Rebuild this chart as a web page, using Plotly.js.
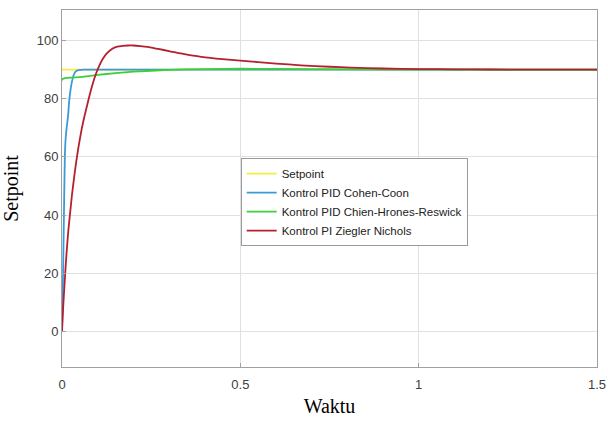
<!DOCTYPE html>
<html>
<head>
<meta charset="utf-8">
<script src="https://cdn.plot.ly/plotly-3.0.1.min.js"></script>
<style>html,body{margin:0;padding:0;background:#fff;}#chart{width:608px;height:425px;}</style>
</head>
<body>
<div id="chart"></div>
<script>
// Setpoint
const tSet = [0, 1.5];
const ySet = [90, 90];
// Kontrol PID Cohen-Coon
const tCC = [0, 0.003, 0.006, 0.008, 0.010, 0.013, 0.017, 0.020, 0.025, 0.030, 0.035, 0.040, 0.050, 0.060, 0.2, 0.5, 1.0, 1.5];
const yCC = [0, 20, 45, 60, 66, 70, 74, 79, 84, 87, 88.8, 89.5, 89.9, 90, 90, 90, 90, 90];
// Kontrol PID Chien-Hrones-Reswick
const tCHR = [0, 0.001, 0.05, 0.10, 0.15, 0.20, 0.30, 0.40, 0.50, 0.70, 1.0, 1.5];
const yCHR = [0, 86.7, 87.4, 88.2, 88.8, 89.3, 89.9, 90.2, 90.3, 90.2, 90.05, 90];
// Kontrol PI Ziegler Nichols
const tZN = [0, 0.002, 0.004, 0.007, 0.010, 0.014, 0.018, 0.023, 0.028, 0.034, 0.040, 0.047, 0.055, 0.063, 0.071, 0.079, 0.087, 0.095, 0.105, 0.115, 0.125, 0.140, 0.155, 0.170, 0.185, 0.200, 0.220, 0.240, 0.270, 0.300, 0.340, 0.390, 0.450, 0.500, 0.550, 0.600, 0.670, 0.750, 0.810, 0.900, 1.000, 1.100, 1.200, 1.300, 1.500];
const yZN = [0, 5, 10, 16, 22, 29, 35, 41, 47, 53, 58.5, 64, 69.5, 74, 78, 82, 85.5, 88.5, 91.5, 93.8, 95.5, 97.1, 97.9, 98.2, 98.3, 98.3, 98.1, 97.8, 97.1, 96.4, 95.4, 94.4, 93.6, 93.1, 92.6, 92.1, 91.5, 91.0, 90.7, 90.4, 90.2, 90.1, 90.05, 90.0, 90.0];
const names = ["Setpoint", "Kontrol PID Cohen-Coon", "Kontrol PID Chien-Hrones-Reswick", "Kontrol PI Ziegler Nichols"];
const colors = ["#f2f03a", "#3a9ad9", "#3ccf3c", "#b5202e"];
const xTicks = [0, 0.5, 1, 1.5];
const xTickText = ["0", "0.5", "1", "1.5"];
const yTicks = [0, 20, 40, 60, 80, 100];

const series = [[tSet, ySet], [tCC, yCC], [tCHR, yCHR], [tZN, yZN]];
const data = series.map((s, i) => ({
  x: s[0], y: s[1], type: 'scatter', mode: 'lines', name: names[i],
  line: {color: colors[i], width: 1.8, shape: 'spline', smoothing: 0.5}
}));
data[0].line.shape = 'linear';

const layout = {
  width: 608, height: 425,
  margin: {l: 62, r: 11, t: 10, b: 58},
  paper_bgcolor: '#fff', plot_bgcolor: '#fff',
  showlegend: true,
  legend: {
    x: 0.334, y: 0.585, xanchor: 'left', yanchor: 'top',
    bgcolor: '#fff', bordercolor: '#9a9a9a', borderwidth: 1,
    font: {family: 'Liberation Sans, Arial, sans-serif', size: 11.5, color: '#222'},
    tracegroupgap: 0
  },
  xaxis: {
    range: [0, 1.5], tickvals: xTicks, ticktext: xTickText,
    showgrid: true, gridcolor: '#e0e0e0', zeroline: false,
    showline: true, mirror: true, linecolor: '#a0a0a0', linewidth: 1,
    ticks: 'inside', ticklen: 4, tickcolor: '#a0a0a0', ticklabelstandoff: 5,
    tickfont: {family: 'Liberation Sans, Arial, sans-serif', size: 13, color: '#404040'},
    title: {text: 'Waktu', font: {family: 'Liberation Serif, Times New Roman, serif', size: 20, color: '#000'}, standoff: 8}
  },
  yaxis: {
    range: [-12.2, 110.5], tickvals: yTicks,
    showgrid: true, gridcolor: '#e0e0e0', zeroline: false,
    showline: true, mirror: true, linecolor: '#a0a0a0', linewidth: 1,
    ticks: 'inside', ticklen: 4, tickcolor: '#a0a0a0',
    tickfont: {family: 'Liberation Sans, Arial, sans-serif', size: 13, color: '#404040'},
    title: {text: 'Setpoint', font: {family: 'Liberation Serif, Times New Roman, serif', size: 20, color: '#000'}, standoff: 14}
  }
};
Plotly.newPlot('chart', data, layout, {displayModeBar: false, staticPlot: true});
</script>
</body>
</html>
